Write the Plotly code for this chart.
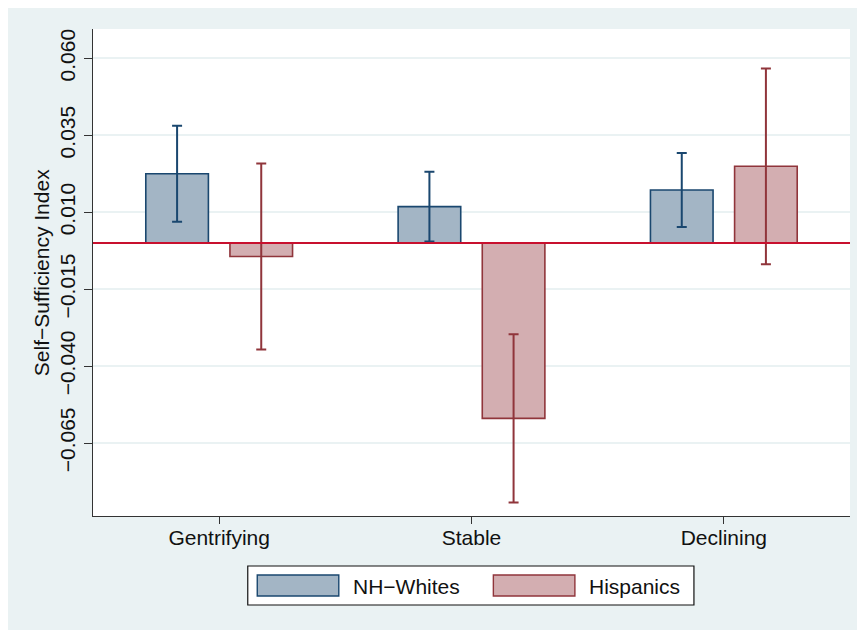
import plotly.graph_objects as go

# ---- data ----
categories = ["Gentrifying", "Stable", "Declining"]
nh_whites = [0.0225, 0.0118, 0.0172]
nh_whites_ci = [0.0156, 0.0113, 0.0120]
hispanics = [-0.0044, -0.0570, 0.0249]
hispanics_ci = [0.0302, 0.0273, 0.0318]
series_names = ["NH\u2212Whites", "Hispanics"]
y_tickvals = [0.060, 0.035, 0.010, -0.015, -0.040, -0.065]
y_ticktext = ["0.060", "0.035", "0.010", "\u22120.015", "\u22120.040", "\u22120.065"]
y_title = "Self\u2212Sufficiency Index"

# ---- style ----
OX, OY = 8, 8            # page offset of the figure (body margin)
W, H = 865, 630
L = 93.3 - OX
T = 29 - OY
R = W - (850 - OX)
B = H - (516 - OY)
PW, PH = W - L - R, H - T - B
BG = "#eaf2f3"
NAVY = "#1a476f"
NAVY_FILL = "#a3b5c5"
MAROON = "#90353b"
MAROON_FILL = "#d3aeb1"
FONT = "Liberation Sans, Arial, Helvetica, sans-serif"
FS = 21


def px_x(x):
    """page x pixel -> paper coordinate"""
    return (x - OX - L) / PW


def px_y(y):
    """page y pixel -> paper coordinate"""
    return (H - B - (y - OY)) / PH


fig = go.Figure()
fig.add_trace(go.Bar(
    x=categories, y=nh_whites, name=series_names[0], showlegend=False,
    marker=dict(color=NAVY_FILL, line=dict(color=NAVY, width=1.6)),
    error_y=dict(type="data", array=nh_whites_ci, color=NAVY, thickness=2, width=5),
))
fig.add_trace(go.Bar(
    x=categories, y=hispanics, name=series_names[1], showlegend=False,
    marker=dict(color=MAROON_FILL, line=dict(color=MAROON, width=1.6)),
    error_y=dict(type="data", array=hispanics_ci, color=MAROON, thickness=2, width=5),
))

shapes = [
    # reference line at zero
    dict(type="line", xref="paper", yref="y", x0=0, x1=1, y0=0, y1=0,
         line=dict(color="#c8102e", width=2), layer="above"),
    # legend box
    dict(type="rect", xref="paper", yref="paper", x0=px_x(248), x1=px_x(694), y0=px_y(605), y1=px_y(566),
         fillcolor="white", line=dict(color="#111111", width=1.2)),
    dict(type="rect", xref="paper", yref="paper", x0=px_x(257.5), x1=px_x(339), y0=px_y(596), y1=px_y(575),
         fillcolor=NAVY_FILL, line=dict(color=NAVY, width=1.4)),
    dict(type="rect", xref="paper", yref="paper", x0=px_x(493.5), x1=px_x(575), y0=px_y(596), y1=px_y(575),
         fillcolor=MAROON_FILL, line=dict(color=MAROON, width=1.4)),
]

annotations = [
    dict(text=y_title, xref="paper", yref="paper", x=px_x(42), y=0.5, textangle=-90,
         showarrow=False, xanchor="center", yanchor="middle", font=dict(size=FS, color="#111111")),
    dict(text=series_names[0], xref="paper", yref="paper", x=px_x(351), y=px_y(586),
         showarrow=False, xanchor="left", yanchor="middle", font=dict(size=FS, color="#111111")),
    dict(text=series_names[1], xref="paper", yref="paper", x=px_x(587), y=px_y(586),
         showarrow=False, xanchor="left", yanchor="middle", font=dict(size=FS, color="#111111")),
]

fig.update_layout(
    width=W, height=H,
    margin=dict(l=L, r=R, t=T, b=B, pad=0),
    paper_bgcolor=BG, plot_bgcolor="white",
    font=dict(family=FONT, size=FS, color="#111111"),
    barmode="group", bargap=0.333, bargroupgap=0.256,
    showlegend=False,
    shapes=shapes, annotations=annotations,
    xaxis=dict(
        range=[-0.5, 2.5], showline=True, linecolor="#333333", linewidth=1.4,
        ticks="outside", ticklen=7, tickcolor="#333333", tickwidth=1.2,
        ticklabelstandoff=-4,
        showgrid=False, zeroline=False, mirror=False, tickfont=dict(size=FS),
    ),
    yaxis=dict(
        range=[-0.08872, 0.06952], tickvals=y_tickvals, ticktext=y_ticktext,
        tickangle=-90, showline=True, linecolor="#333333", linewidth=1.4,
        ticks="outside", ticklen=8, tickcolor="#333333", tickwidth=1.2,
        showgrid=True, gridcolor="#eaf2f3", gridwidth=1.5, zeroline=False,
        tickfont=dict(size=FS),
    ),
)

fig.write_html("out.html")
